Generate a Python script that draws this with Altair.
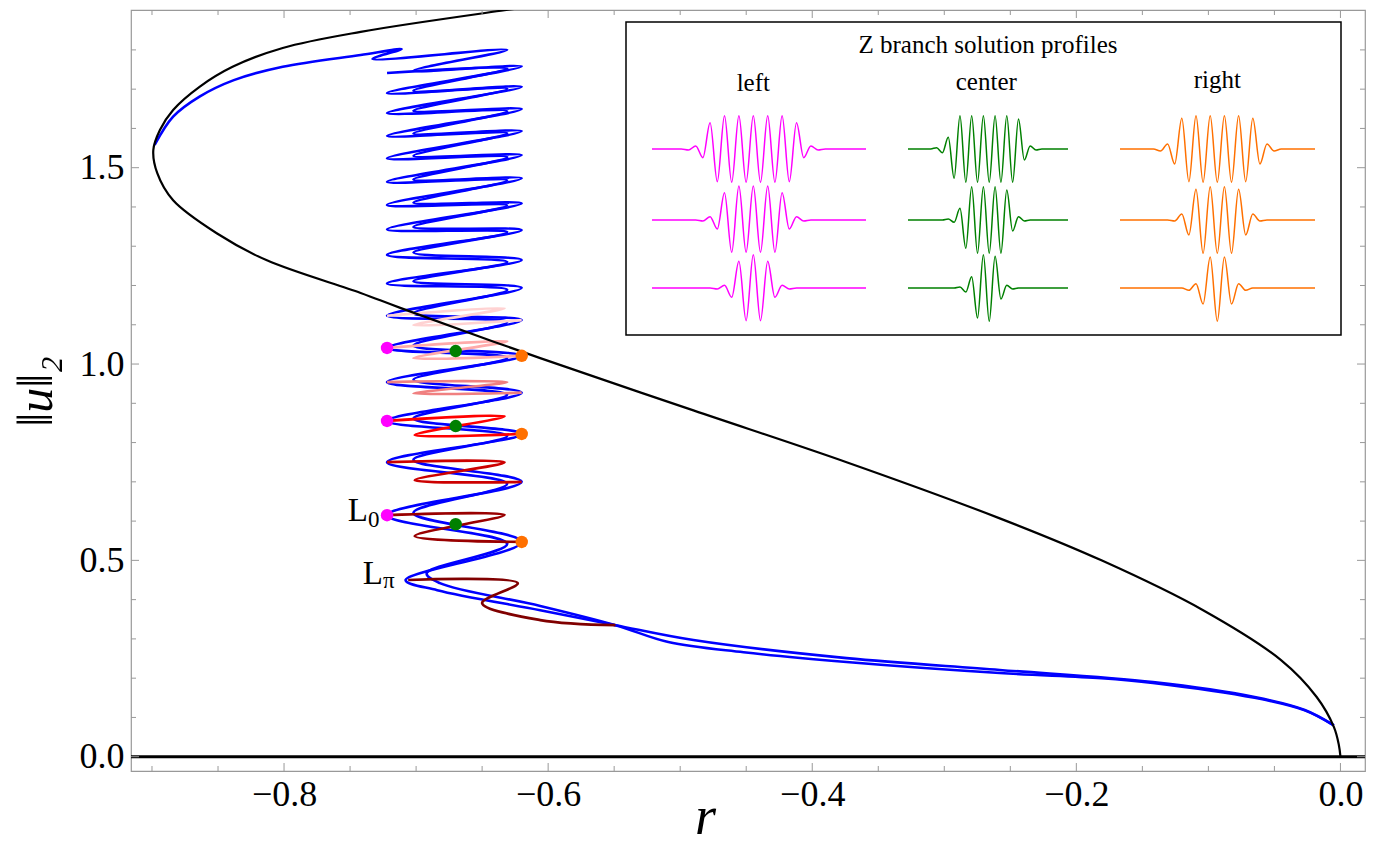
import altair as alt
import pandas as pd

# ---------------- frame / scales ----------------
XMIN, XMAX = -0.9159, 0.0186
YMIN, YMAX = -0.0364, 1.9016
W, H = 1234, 761
PAD = {"left": 131, "top": 10, "right": 14, "bottom": 75}

X_MAJOR = [-0.8, -0.6, -0.4, -0.2, 0.0]
X_MINOR = [-0.9, -0.85, -0.75, -0.7, -0.65, -0.55, -0.5, -0.45, -0.35, -0.3, -0.25, -0.15, -0.1, -0.05]
Y_MAJOR = [0.0, 0.5, 1.0, 1.5]
Y_MINOR = [0.1, 0.2, 0.3, 0.4, 0.6, 0.7, 0.8, 0.9, 1.1, 1.2, 1.3, 1.4, 1.6, 1.7, 1.8]

# ---------------- periodic branch (black) ----------------
BLACK_R = [0.0, -0.0012, -0.005, -0.018, -0.045, -0.104, -0.181, -0.258, -0.374, -0.490, -0.606,
           -0.712, -0.742, -0.813, -0.851, -0.884, -0.896, -0.899, -0.894, -0.884, -0.864, -0.839,
           -0.801, -0.742, -0.633, -0.58]
BLACK_Y = [0.0, 0.030, 0.076, 0.152, 0.246, 0.373, 0.500, 0.607, 0.750, 0.882, 1.015,
           1.143, 1.181, 1.264, 1.333, 1.417, 1.486, 1.545, 1.596, 1.647, 1.706, 1.757,
           1.805, 1.846, 1.901, 1.925]

# ---------------- localized branches (blue) ----------------
PI_LOW_R = [-0.005, -0.027, -0.065, -0.142, -0.258, -0.374, -0.490, -0.549, -0.606, -0.684]
PI_LOW_Y = [0.080, 0.119, 0.152, 0.190, 0.221, 0.251, 0.297, 0.335, 0.373, 0.424]
ZERO_LOW_R = [-0.005, -0.027, -0.065, -0.142, -0.181, -0.258, -0.374, -0.452, -0.509, -0.549, -0.606, -0.682]
ZERO_LOW_Y = [0.080, 0.118, 0.150, 0.188, 0.200, 0.213, 0.241, 0.266, 0.292, 0.335, 0.384, 0.442]
FIRST_LEFT_PI = (-0.708, 0.450)
FIRST_LEFT_ZERO = (-0.692, 0.467)

LEFT_FOLD_Y = [0.450, 0.615, 0.750, 0.855, 0.954, 1.041, 1.123, 1.205, 1.278, 1.343, 1.405, 1.464,
               1.524, 1.581, 1.639, 1.690, 1.741]
RIGHT_FOLD_Y = [0.547, 0.700, 0.822, 0.927, 1.021, 1.112, 1.194, 1.265, 1.341, 1.409, 1.473, 1.532,
                1.593, 1.649, 1.706, 1.758, 1.805]
L_OUT, L_IN, R_OUT, R_IN = -0.722, -0.702, -0.620, -0.631

TOP_R = [-0.733, -0.711, -0.742, -0.801, -0.838, -0.864, -0.884, -0.898]
TOP_Y = [1.777, 1.802, 1.787, 1.757, 1.723, 1.681, 1.630, 1.558]

# ---------------- Z branches (reds) ----------------
Z_R = [
    [-0.706, -0.623, -0.650, -0.606, -0.549],
    [-0.722, -0.633, -0.701, -0.620],
    [-0.722, -0.633, -0.701, -0.620],
    [-0.722, -0.633, -0.701, -0.620],
    [-0.722, -0.631, -0.702, -0.620],
    [-0.722, -0.631, -0.702, -0.620],
    [-0.722, -0.633, -0.702, -0.620],
]
Z_Y = [
    [0.450, 0.442, 0.391, 0.348, 0.335],
    [0.615, 0.616, 0.562, 0.547],
    [0.750, 0.750, 0.704, 0.700],
    [0.855, 0.867, 0.819, 0.822],
    [0.954, 0.954, 0.925, 0.927],
    [1.041, 1.058, 1.015, 1.021],
    [1.123, 1.142, 1.099, 1.112],
]
Z_COLORS = ["#800000", "#990000", "#cc0000", "#ff0000", "#f08080", "#ffaaaa", "#ffd2d2"]

# ---------------- marked solutions ----------------
DOT_R = [-0.722, -0.722, -0.722, -0.670, -0.670, -0.670, -0.620, -0.620, -0.620]
DOT_Y = [0.615, 0.855, 1.041, 0.592, 0.842, 1.033, 0.547, 0.822, 1.021]
DOT_C = ["#ff00ff"] * 3 + ["#008000"] * 3 + ["#ff7000"] * 3

# ---------------- inset profiles (extrema amplitudes) ----------------
LEFT_AMPS = [
    [-0.03, 0.09, -0.26, 0.79, -0.98, 1, -1, 1, -1, 1, -1, 1, -1, 1, -0.98, 0.79, -0.26, 0.09, -0.03],
    [-0.03, 0.10, -0.27, 0.82, -0.97, 1.02, -0.97, 1.02, -0.97, 1.02, -0.97, 0.82, -0.27, 0.10, -0.03],
    [-0.03, 0.08, -0.28, 0.80, -0.98, 1.0, -0.98, 0.80, -0.28, 0.08, -0.03],
]
CENTER_AMPS = [
    [0.04, -0.11, 0.35, -0.88, 1, -1, 1, -1, 1, -1, 1, -1, 1, -1, 0.90, -0.33, 0.09, -0.03],
    [0.03, -0.07, 0.35, -0.85, 1, -1, 1, -1, 1, -1, 0.90, -0.33, 0.10, -0.03],
    [0.03, -0.12, 0.34, -0.90, 1, -1, 0.95, -0.33, 0.08, -0.03],
]
RIGHT_AMPS = [
    [-0.06, 0.15, -0.45, 0.92, -0.98, 1, -1, 1, -1, 1, -1, 1, -0.98, 0.92, -0.45, 0.15, -0.06],
    [-0.03, 0.18, -0.45, 0.92, -1, 1, -1, 1, -1, 0.92, -0.45, 0.18, -0.03],
    [-0.07, 0.13, -0.48, 0.93, -1, 0.93, -0.48, 0.13, -0.07],
]
PROFILE_COLORS = ["#ff00ff", "#008000", "#ff7000"]
COLUMN_NAMES = ["left", "center", "right"]
INSET_TITLE = "Z branch solution profiles"

# ---------------- layout of inset (pixels) ----------------
INSET_BOX = (626, 22, 1341, 335)
INSET_COLS = [(753.3, 7.2, 652, 866), (986.3, 5.85, 908, 1068), (1217.3, 7.1, 1120, 1315)]
INSET_ROWS = [149, 220, 288]
INSET_AMP = 33.3


def px2r(px):
    return XMIN + (px - PAD["left"]) / W * (XMAX - XMIN)


def py2y(py):
    return YMAX - (py - PAD["top"]) / H * (YMAX - YMIN)


xs = alt.Scale(domain=[XMIN, XMAX], nice=False, zero=False)
ys = alt.Scale(domain=[YMIN, YMAX], nice=False, zero=False)
FONT = "Liberation Serif"

x_axis = alt.Axis(values=X_MAJOR, format=".1f", ticks=False, domain=False, grid=False,
                  labelFont=FONT, labelFontSize=36, labelColor="black", labelPadding=6,
                  labelFlush=False, title="r", titleFont=FONT, titleFontStyle="italic",
                  titleFontWeight="normal", titleFontSize=54, titleColor="black",
                  titleX=574, titleY=62, titleAlign="center", titleBaseline="alphabetic")
y_axis = alt.Axis(values=Y_MAJOR, format=".1f", ticks=False, domain=False, grid=False,
                  labelFont=FONT, labelFontSize=36, labelColor="black", labelPadding=7,
                  labelFlush=False, title="‖u‖₂", titleFont=FONT, titleFontStyle="italic",
                  titleFontWeight="normal", titleFontSize=50, titleColor="black",
                  titleX=-80, titleY=381, titleAngle=270, titleAlign="center",
                  titleBaseline="alphabetic")


def X(field):
    return alt.X(field, scale=xs, axis=x_axis)


def Y(field):
    return alt.Y(field, scale=ys, axis=y_axis)


layers = []

# zero line
layers.append(alt.Chart(pd.DataFrame({"y": [0.0]})).mark_rule(color="black", strokeWidth=3).encode(
    y=Y("y:Q")))

# blue snakes
def snake(low_r, low_y, first_left, outer_parity, n_left, n_right):
    pts = list(zip(low_r, low_y))
    for k in range(n_left):
        outer = (k % 2 == outer_parity)
        if k == 0:
            pts.append(first_left)
        else:
            pts.append((L_OUT if outer else L_IN, LEFT_FOLD_Y[k] + (0 if outer else 0.006)))
        if k < n_right:
            pts.append((R_OUT if outer else R_IN, RIGHT_FOLD_Y[k] - (0 if outer else 0.005)))
    return pts

pi_pts = snake(PI_LOW_R, PI_LOW_Y, FIRST_LEFT_PI, 0, len(LEFT_FOLD_Y), len(LEFT_FOLD_Y) - 1)
zero_pts = snake(ZERO_LOW_R, ZERO_LOW_Y, FIRST_LEFT_ZERO, 1, len(LEFT_FOLD_Y), len(RIGHT_FOLD_Y))
zero_pts += list(zip(TOP_R, TOP_Y))

rows = []
for sid, pts in (("pi", pi_pts), ("zero", zero_pts)):
    for i, (r, y) in enumerate(pts):
        rows.append({"id": sid, "r": r, "y": y, "o": i})
blue_df = pd.DataFrame(rows)
layers.append(alt.Chart(blue_df).mark_line(color="#0000ff", strokeWidth=2.6, interpolate="catmull-rom").encode(
    x=X("r:Q"), y=Y("y:Q"), detail="id:N", order="o:Q"))

# Z branches
rows = []
for zi, (rr, yy) in enumerate(zip(Z_R, Z_Y)):
    for i, (r, y) in enumerate(zip(rr, yy)):
        rows.append({"id": zi, "r": r, "y": y, "o": i, "c": Z_COLORS[zi]})
z_df = pd.DataFrame(rows)
layers.append(alt.Chart(z_df).mark_line(strokeWidth=2.7, interpolate="catmull-rom").encode(
    x=X("r:Q"), y=Y("y:Q"), color=alt.Color("c:N", scale=None), detail="id:N", order="o:Q"))

# black periodic branch
black_df = pd.DataFrame({"r": BLACK_R, "y": BLACK_Y, "o": list(range(len(BLACK_R)))})
layers.append(alt.Chart(black_df).mark_line(color="black", strokeWidth=2.2, interpolate="catmull-rom", clip=True).encode(
    x=X("r:Q"), y=Y("y:Q"), order="o:Q"))

# dots
dot_df = pd.DataFrame({"r": DOT_R, "y": DOT_Y, "c": DOT_C})
layers.append(alt.Chart(dot_df).mark_circle(size=155, opacity=1).encode(
    x=X("r:Q"), y=Y("y:Q"), color=alt.Color("c:N", scale=None)))

# L labels
lab_main = pd.DataFrame({"r": [px2r(368), px2r(383)], "y": [py2y(521), py2y(584)], "t": ["L", "L"]})
lab_sub = pd.DataFrame({"r": [px2r(368), px2r(383)], "y": [py2y(527), py2y(588)], "t": ["0", "π"]})
layers.append(alt.Chart(lab_main).mark_text(font=FONT, fontSize=33, align="right", baseline="alphabetic", color="black").encode(
    x=X("r:Q"), y=Y("y:Q"), text="t:N"))
layers.append(alt.Chart(lab_sub).mark_text(font=FONT, fontSize=23, align="left", baseline="alphabetic", color="black").encode(
    x=X("r:Q"), y=Y("y:Q"), text="t:N"))

# inset box
bx0, by0, bx1, by1 = INSET_BOX
box_df = pd.DataFrame({"r1": [px2r(bx0)], "r2": [px2r(bx1)], "y1": [py2y(by0)], "y2": [py2y(by1)]})
layers.append(alt.Chart(box_df).mark_rect(fill="white", stroke="black", strokeWidth=1.5).encode(
    x=X("r1:Q"), x2="r2:Q", y=Y("y1:Q"), y2="y2:Q"))

# inset texts
title_df = pd.DataFrame({"r": [px2r(988)], "y": [py2y(53)], "t": [INSET_TITLE]})
layers.append(alt.Chart(title_df).mark_text(font=FONT, fontSize=25, align="center", baseline="alphabetic", color="black").encode(
    x=X("r:Q"), y=Y("y:Q"), text="t:N"))
head_df = pd.DataFrame({"r": [px2r(c[0]) for c in INSET_COLS], "y": [py2y(91), py2y(90), py2y(88)], "t": COLUMN_NAMES})
layers.append(alt.Chart(head_df).mark_text(font=FONT, fontSize=25, align="center", baseline="alphabetic", color="black").encode(
    x=X("r:Q"), y=Y("y:Q"), text="t:N"))

# inset profiles
rows = []
for ci, amps_col in enumerate([LEFT_AMPS, CENTER_AMPS, RIGHT_AMPS]):
    cx, hw, x0, x1 = INSET_COLS[ci]
    for ri, amps in enumerate(amps_col):
        base = INSET_ROWS[ri]
        n = len(amps)
        pts = [(x0, 0.0), (cx - ((n - 1) / 2 + 1) * hw, 0.0)]
        pts += [(cx + (i - (n - 1) / 2) * hw, a) for i, a in enumerate(amps)]
        pts += [(cx + ((n - 1) / 2 + 1) * hw, 0.0), (x1, 0.0)]
        for i, (px, a) in enumerate(pts):
            rows.append({"id": f"{ci}-{ri}", "r": px2r(px), "y": py2y(base - a * INSET_AMP), "o": i,
                         "c": PROFILE_COLORS[ci]})
prof_df = pd.DataFrame(rows)
layers.append(alt.Chart(prof_df).mark_line(strokeWidth=1.5, interpolate="monotone").encode(
    x=X("r:Q"), y=Y("y:Q"), color=alt.Color("c:N", scale=None), detail="id:N", order="o:Q"))

# inward frame ticks on all four sides
TICK_C = "#999999"
def xticks(vals, length):
    d = pd.DataFrame({"v": vals})
    out = []
    for y1, y2 in ((H, H - length), (0, length)):
        out.append(alt.Chart(d).mark_rule(color=TICK_C, strokeWidth=1).encode(
            x=X("v:Q"), y=alt.value(y1), y2=alt.value(y2)))
    return out

def yticks(vals, length):
    d = pd.DataFrame({"v": vals})
    out = []
    for x1, x2 in ((0, length), (W, W - length)):
        out.append(alt.Chart(d).mark_rule(color=TICK_C, strokeWidth=1).encode(
            y=Y("v:Q"), x=alt.value(x1), x2=alt.value(x2)))
    return out

layers += xticks(X_MAJOR, 8) + xticks(X_MINOR, 5) + yticks(Y_MAJOR, 8) + yticks(Y_MINOR, 5)

chart = alt.layer(*layers).properties(
    width=W, height=H, autosize=alt.AutoSizeParams(type="none"), padding=PAD
).configure_view(stroke="#999999", strokeWidth=1.2)

chart.save("out.html", embed_options={"renderer": "svg", "actions": False})
